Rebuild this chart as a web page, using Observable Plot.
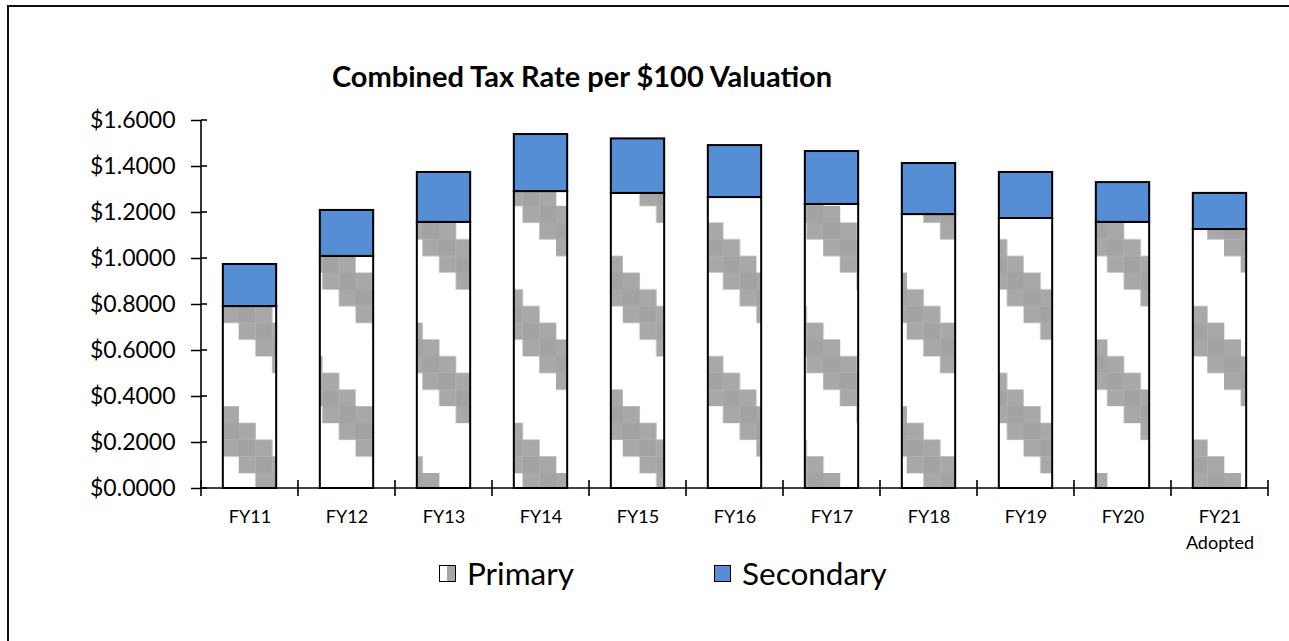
<!DOCTYPE html>
<html>
<head>
<meta charset="utf-8">
<script src="https://cdn.jsdelivr.net/npm/d3@7"></script>
<script src="https://cdn.jsdelivr.net/npm/@observablehq/plot@0.6"></script>
<style>
  html, body { margin: 0; padding: 0; background: #fff; overflow: hidden; }
  #wrap { position: relative; width: 1289px; height: 641px; overflow: hidden; font-family: Lato, "Open Sans", sans-serif; }
  #frame { position: absolute; left: 7px; top: 5px; width: 1400px; height: 800px; border: 2px solid #111; box-sizing: border-box; }
  #title { position: absolute; left: 0; width: 1164px; top: 57px; text-align: center; font-weight: bold; font-size: 29px; line-height: 38px; color: #000; white-space: nowrap; }
  #chart { position: absolute; left: 0; top: 0; }
  .leg { position: absolute; top: 555px; height: 36px; display: flex; align-items: center; font-size: 31.5px; color: #000; white-space: nowrap; }
  .sw { width: 15px; height: 15px; border: 1.5px solid #000; margin-right: 11px; }
</style>
</head>
<body>
<div id="wrap">
  <div id="frame"></div>
  <div id="title">Combined Tax Rate per $100 Valuation</div>
  <div id="chart"></div>
  <div class="leg" style="left:439px"><div class="sw" style="background:linear-gradient(to right,#fff 50%,#a6a6a6 50%)"></div><span>Primary</span></div>
  <div class="leg" style="left:714px"><div class="sw" style="background:#558ed5"></div><span>Secondary</span></div>
</div>
<script>
// ---- data ----
const years = ["FY11","FY12","FY13","FY14","FY15","FY16","FY17","FY18","FY19","FY20","FY21"];
const yearLabels = ["FY11","FY12","FY13","FY14","FY15","FY16","FY17","FY18","FY19","FY20","FY21\nAdopted"];
const primary   = [0.791, 1.009, 1.157, 1.291, 1.283, 1.265, 1.235, 1.191, 1.174, 1.157, 1.126];
const secondary = [0.183, 0.200, 0.217, 0.248, 0.237, 0.226, 0.230, 0.222, 0.200, 0.173, 0.157];
const seriesNames = ["Primary", "Secondary"];
const yTicks = [0, 0.2, 0.4, 0.6, 0.8, 1.0, 1.2, 1.4, 1.6];

const rows = [];
years.forEach((yr, i) => {
  rows.push({year: yr, series: "Primary", value: primary[i]});
  rows.push({year: yr, series: "Secondary", value: secondary[i]});
});
const labelOf = new Map(years.map((y, i) => [y, yearLabels[i]]));

const plot = Plot.plot({
  width: 1289,
  height: 540,
  marginLeft: 201,
  marginRight: 21,
  marginTop: 120,
  marginBottom: 52,
  style: {fontFamily: "Lato, 'Open Sans', sans-serif", background: "transparent", color: "#000", overflow: "visible"},
  x: {domain: years, paddingInner: 0.45, paddingOuter: 0.225, round: false, label: null},
  y: {domain: [0, 1.6], label: null},
  color: {domain: seriesNames, range: ["url(#primPat)", "#558ed5"]},
  marks: [
    Plot.barY(rows, Plot.stackY({x: "year", y: "value", fill: "series", stroke: "#000", strokeWidth: 2, order: seriesNames})),
    Plot.axisY({ticks: yTicks, tickFormat: d => "$" + d.toFixed(4), tickSize: 10, tickPadding: 16, fontSize: 23, stroke: "#000", strokeWidth: 1.5, label: null}),
    Plot.axisX({tickSize: 0, tickPadding: 17, fontSize: 18, lineHeight: 1.4, tickFormat: d => labelOf.get(d), label: null})
  ]
});
document.getElementById("chart").appendChild(plot);

// pattern for Primary fill (diagonal checker blocks)
const svg = d3.select(plot);
const B = 16.7, N = 8;
const pat = svg.insert("defs", ":first-child").append("pattern")
  .attr("id", "primPat").attr("patternUnits", "userSpaceOnUse")
  .attr("x", 222).attr("y", 306 - 2 * B)
  .attr("width", B * N).attr("height", B * N);
pat.append("rect").attr("width", B * N).attr("height", B * N).attr("fill", "#fff");
for (let r = 0; r < N; r++) for (let c = 0; c < N; c++) {
  const k = ((r - c) % N + N) % N;
  if (k <= 2) pat.append("rect").attr("x", c * B).attr("y", r * B).attr("width", B + 0.3).attr("height", B + 0.3).attr("fill", k === 1 ? "#a3a3a3" : "#a8a8a8");
}

// axis lines and crossing ticks using Plot's scales
const sx = plot.scale("x"), sy = plot.scale("y");
const band = d3.scaleBand().domain(sx.domain).range(sx.range)
  .paddingInner(sx.paddingInner).paddingOuter(sx.paddingOuter).align(sx.align ?? 0.5);
const yS = d3.scaleLinear().domain(sy.domain).range(sy.range);
const step = band.step(), bw = band.bandwidth();
const x0 = band(years[0]) - (step - bw) / 2;
const y0 = yS(0), yTop = yS(1.6);
const g = svg.append("g").attr("stroke", "#000").attr("stroke-width", 1.6);
g.append("line").attr("x1", x0).attr("x2", x0).attr("y1", yTop).attr("y2", y0);
g.append("line").attr("x1", x0).attr("x2", band(years[years.length - 1]) + bw + (step - bw) / 2).attr("y1", y0).attr("y2", y0);
yTicks.forEach(t => g.append("line").attr("x1", x0).attr("x2", x0 + 6).attr("y1", yS(t)).attr("y2", yS(t)));
for (let i = 0; i <= years.length; i++) {
  const xe = x0 + i * step;
  g.append("line").attr("x1", xe).attr("x2", xe).attr("y1", y0 - 8).attr("y2", y0 + 8);
}
</script>
</body>
</html>
